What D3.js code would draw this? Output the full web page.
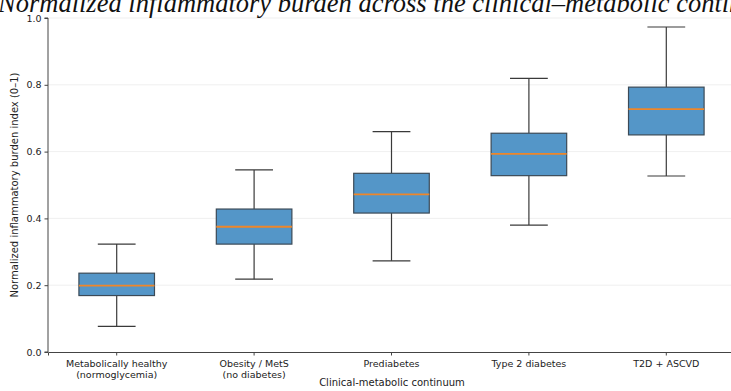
<!DOCTYPE html>
<html>
<head>
<meta charset="utf-8">
<script src="https://cdn.jsdelivr.net/npm/d3@7"></script>
<style>
  html, body { margin: 0; padding: 0; background: #fff; }
  svg { display: block; }
</style>
</head>
<body>
<svg id="chart" width="731" height="391"></svg>
<script>
// Groups along the clinical-metabolic continuum
const categories = [
  ["Metabolically healthy", "(normoglycemia)"],
  ["Obesity / MetS", "(no diabetes)"],
  ["Prediabetes"],
  ["Type 2 diabetes"],
  ["T2D + ASCVD"]
];
// Box summaries per group: whisker low, Q1, median, Q3, whisker high
const whiskerLow  = [0.077, 0.218, 0.273, 0.380, 0.527];
const q1          = [0.169, 0.323, 0.416, 0.528, 0.650];
const median      = [0.199, 0.375, 0.472, 0.593, 0.727];
const q3          = [0.236, 0.428, 0.535, 0.655, 0.793];
const whiskerHigh = [0.323, 0.545, 0.660, 0.819, 0.973];
const yTicks = [0.0, 0.2, 0.4, 0.6, 0.8, 1.0];

const svg = d3.select("#chart");
const margin = { left: 48, right: -4, top: 18, bottom: 39 };
const W = 731, H = 391;

const x = d3.scaleBand()
  .domain(d3.range(categories.length))
  .range([margin.left, W - margin.right])
  .paddingInner(0).paddingOuter(0);
const y = d3.scaleLinear().domain([0, 1]).range([H - margin.bottom, margin.top]);

const boxW = x.bandwidth() * 0.55;
const capW = boxW / 2;
const cx = i => x(i) + x.bandwidth() / 2;

// grid
svg.append("g").selectAll("line").data(yTicks.slice(1)).join("line")
  .attr("x1", margin.left).attr("x2", W)
  .attr("y1", d => y(d)).attr("y2", d => y(d))
  .attr("stroke", "#ebebeb").attr("stroke-width", 0.8);

// boxes
const g = svg.append("g").selectAll("g").data(d3.range(categories.length)).join("g");
const wColor = "#3a3a3a";
g.append("line").attr("x1", cx).attr("x2", cx)
  .attr("y1", i => y(q3[i])).attr("y2", i => y(whiskerHigh[i]))
  .attr("stroke", wColor).attr("stroke-width", 1.2);
g.append("line").attr("x1", cx).attr("x2", cx)
  .attr("y1", i => y(q1[i])).attr("y2", i => y(whiskerLow[i]))
  .attr("stroke", wColor).attr("stroke-width", 1.2);
g.append("line").attr("x1", i => cx(i) - capW / 2).attr("x2", i => cx(i) + capW / 2)
  .attr("y1", i => y(whiskerHigh[i])).attr("y2", i => y(whiskerHigh[i]))
  .attr("stroke", wColor).attr("stroke-width", 1.2);
g.append("line").attr("x1", i => cx(i) - capW / 2).attr("x2", i => cx(i) + capW / 2)
  .attr("y1", i => y(whiskerLow[i])).attr("y2", i => y(whiskerLow[i]))
  .attr("stroke", wColor).attr("stroke-width", 1.2);
g.append("rect")
  .attr("x", i => cx(i) - boxW / 2).attr("width", boxW)
  .attr("y", i => y(q3[i])).attr("height", i => y(q1[i]) - y(q3[i]))
  .attr("fill", "#5496c8").attr("stroke", "#3b4a57").attr("stroke-width", 1.2);
g.append("line").attr("x1", i => cx(i) - boxW / 2).attr("x2", i => cx(i) + boxW / 2)
  .attr("y1", i => y(median[i])).attr("y2", i => y(median[i]))
  .attr("stroke", "#ee8629").attr("stroke-width", 1.8);

// axes
const axColor = "#444";
const yAxis = svg.append("g").attr("transform", `translate(${margin.left},0)`)
  .call(d3.axisLeft(y).tickValues(yTicks).tickFormat(d3.format(".1f")).tickSize(3.5).tickPadding(3));
const xAxis = svg.append("g").attr("transform", `translate(0,${H - margin.bottom})`)
  .call(d3.axisBottom(x).tickFormat("").tickSize(3.5));
[yAxis, xAxis].forEach(a => {
  a.select(".domain").attr("stroke", axColor).attr("stroke-width", 1);
  a.selectAll(".tick line").attr("stroke", axColor);
  a.selectAll("text").attr("fill", "#222").attr("font-family", "DejaVu Sans").attr("font-size", 9.5);
});
yAxis.select(".domain").attr("d", `M-3.5,${y(0)}H0V${y(1)}H-3.5`);

// category labels (two lines where needed)
const lab = svg.append("g").attr("font-family", "DejaVu Sans").attr("font-size", 9.5)
  .attr("fill", "#222").attr("text-anchor", "middle");
categories.forEach((c, i) => {
  const t = lab.append("text").attr("x", cx(i)).attr("y", H - margin.bottom + 15);
  c.forEach((s, k) => t.append("tspan").attr("x", cx(i)).attr("dy", k === 0 ? 0 : 11).text(s));
});

// axis titles
svg.append("text").attr("x", 392).attr("y", 386)
  .attr("text-anchor", "middle").attr("font-family", "DejaVu Sans").attr("font-size", 10)
  .attr("fill", "#222").text("Clinical-metabolic continuum");
svg.append("text").attr("transform", `translate(18,${y(0.5)}) rotate(-90)`)
  .attr("text-anchor", "middle").attr("font-family", "DejaVu Sans").attr("font-size", 10)
  .attr("fill", "#222").text("Normalized inflammatory burden index (0–1)");

// title
svg.append("text").attr("x", -2).attr("y", 12)
  .attr("font-family", "Liberation Serif").attr("font-style", "italic").attr("font-size", 26.5)
  .attr("fill", "#111").text("Normalized inflammatory burden across the clinical–metabolic continuum");
</script>
</body>
</html>
